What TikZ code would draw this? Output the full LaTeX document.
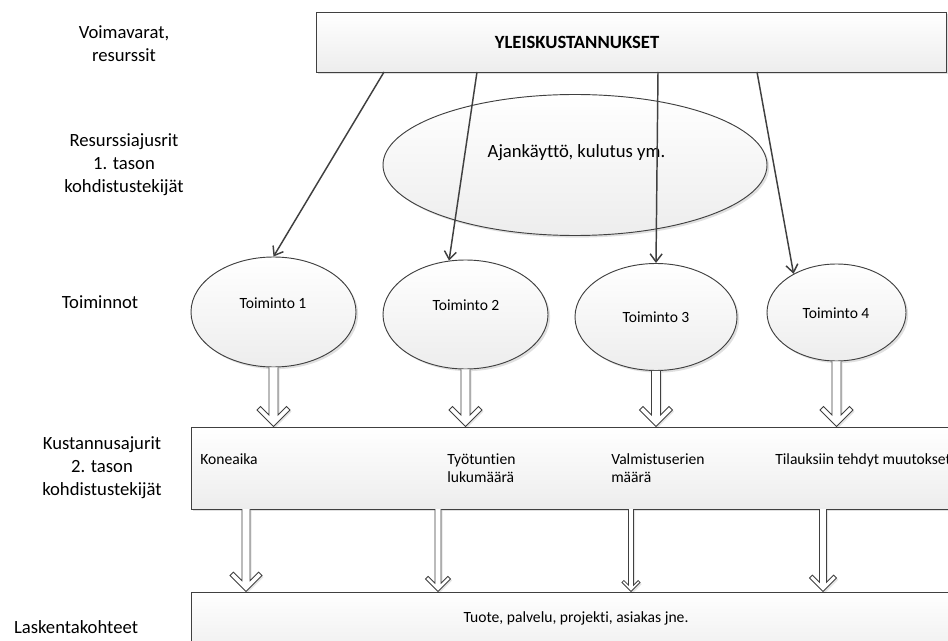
\documentclass[tikz,border=0pt]{standalone}
\usepackage{fontspec}
\setmainfont{Carlito}[Ligatures=NoCommon]
\usetikzlibrary{arrows.meta,shapes.geometric,shadows,calc}
\definecolor{edge}{HTML}{404040}
\definecolor{fillbot}{HTML}{EDEDED}
\tikzset{
  shp/.style={draw=edge, line width=0.7pt, top color=white, bottom color=fillbot,
    drop shadow={shadow xshift=1.6pt, shadow yshift=-1.6pt, fill=black, opacity=0.12}},
  boxshape/.style={shp, rectangle, inner sep=0pt},
  ellshape/.style={shp, ellipse, inner sep=0pt},
  lbl/.style={font=\fontsize{14}{17.2}\selectfont, align=center, inner sep=0pt},
  smalltxt/.style={font=\fontsize{11.7}{13.5}\selectfont, align=left, inner sep=0pt},
  thinarrow/.style={draw=edge, line width=1.1pt, -{Straight Barb[length=6pt,width=9pt,line width=1.1pt]}},
  hollow/.style={draw=edge, line width=0.6pt, fill=white,
    drop shadow={shadow xshift=1.2pt, shadow yshift=-1.2pt, fill=black, opacity=0.1}}
}
% #1 start, #2 tip, #3 half shaft width (px), #4 head scale
\newcommand\harrow[4]{%
  \path[hollow] let \p1=(#1), \p2=(#2) in
    ({\x2-#3*0.75pt},\y1) -- ({\x2-#3*0.75pt},{\y2+(#3+7*#4)*0.75pt})
    -- ({\x2-13*#4*0.75pt},{\y2+20*#4*0.75pt})
    -- ({\x2-16.5*#4*0.75pt},{\y2+16.5*#4*0.75pt})
    -- (\x2,\y2)
    -- ({\x2+16.5*#4*0.75pt},{\y2+16.5*#4*0.75pt})
    -- ({\x2+13*#4*0.75pt},{\y2+20*#4*0.75pt})
    -- ({\x2+#3*0.75pt},{\y2+(#3+7*#4)*0.75pt})
    -- ({\x2+#3*0.75pt},\y1);
}
\begin{document}
\begin{tikzpicture}[x=0.75pt,y=-0.75pt]
\useasboundingbox[fill=white] (0,0) rectangle (948,641);

% left labels
\node[lbl] (L1) at (124,44) {Voimavarat,\\resurssit};
\node[lbl] (L2) at (124,165) {Resurssiajusrit\\1. tason\\kohdistustekijät};
\node[lbl] (L3) at (100,302) {Toiminnot};
\node[lbl] (L4) at (102,468) {Kustannusajurit\\2. tason\\kohdistustekijät};
\node[lbl] (L5) at (76,627) {Laskentakohteet};

% top box
\node[boxshape, minimum width=472.5pt, minimum height=45pt] (top) at (631,42) {};
\node[font=\bfseries\fontsize{14}{17}\selectfont, inner sep=0pt] (toptxt) at (577,42) {YLEISKUSTANNUKSET};

% big ellipse
\node[ellshape, minimum width=288pt, minimum height=105.75pt] (big) at (575,165) {};
\node[font=\fontsize{14}{17}\selectfont, inner sep=0pt] (bigtxt) at (576.5,153) {Ajankäyttö, kulutus ym.};

% activity ellipses
\node[ellshape, minimum width=123.75pt, minimum height=82.5pt] (e1) at (273.5,312) {};
\node[ellshape, minimum width=123.75pt, minimum height=81.75pt] (e2) at (465.5,314.5) {};
\node[ellshape, minimum width=121.5pt, minimum height=80.25pt] (e3) at (656,317) {};
\node[ellshape, minimum width=104.25pt, minimum height=72.75pt] (e4) at (836.5,312.5) {};
\node[smalltxt] (t1) at (273,303) {Toiminto 1};
\node[smalltxt] (t2) at (466,305) {Toiminto 2};
\node[smalltxt] (t3) at (656,317) {Toiminto 3};
\node[smalltxt] (t4) at (836,313) {Toiminto 4};

% middle box
\node[boxshape, minimum width=577.5pt, minimum height=61.5pt] (mid) at (576,468) {};
\node[smalltxt, anchor=base west] (k1) at (200,464) {Koneaika};
\node[smalltxt, anchor=base west] (k2) at (447,482) {Työtuntien\\lukumäärä};
\node[smalltxt, anchor=base west] (k3) at (611,482) {Valmistuserien\\määrä};
\node[smalltxt, anchor=base west] (k4) at (775,464) {Tilauksiin tehdyt muutokset};

% bottom box
\node[boxshape, minimum width=577.5pt, minimum height=51pt] (bot) at (576,626) {};
\node[smalltxt] (bottxt) at (576,618) {Tuote, palvelu, projekti, asiakas jne.};

% thin arrows
\coordinate (s1) at (384,72);
\coordinate (s2) at (477,72);
\coordinate (s3) at (658,72);
\coordinate (s4) at (757,72);
\draw[thinarrow] (s1) -- (e1.north);
\draw[thinarrow] (s2) -- (e2.107);
\draw[thinarrow] (s3) -- (e3.north);
\draw[thinarrow] (s4) -- (e4.138);

% hollow arrows, activities to cost drivers
\harrow{e1.south}{e1.south |- mid.north}{4.5}{1}
\harrow{e2.south}{e2.south |- mid.north}{4.5}{1}
\harrow{e3.south}{e3.south |- mid.north}{4.5}{1}
\harrow{e4.south}{e4.south |- mid.north}{4.5}{1}

% hollow arrows, cost drivers to cost objects
\coordinate (l1) at (246,509);
\coordinate (l2) at (438,509);
\coordinate (l3) at (631,509);
\coordinate (l4) at (823,509);
\harrow{l1}{l1 |- bot.north}{4}{0.97}
\harrow{l2}{l2 |- bot.north}{3}{0.76}
\harrow{l3}{l3 |- bot.north}{2.5}{0.55}
\harrow{l4}{l4 |- bot.north}{3.5}{0.82}
\end{tikzpicture}
\end{document}
